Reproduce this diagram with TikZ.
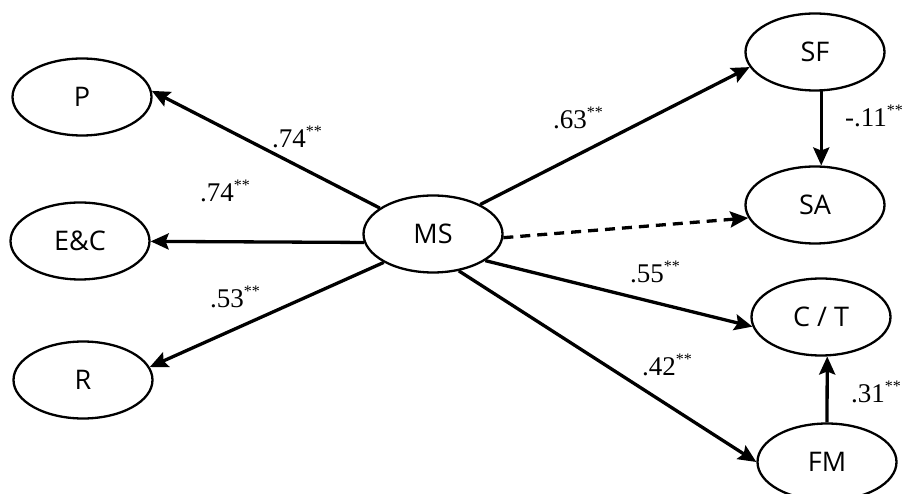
\documentclass[tikz,border=0pt]{standalone}
\usepackage{fontspec}
\setmainfont{Liberation Serif}
\setsansfont{Open Sans}
\usetikzlibrary{shapes.geometric,arrows.meta}

\newcommand{\sig}{\raisebox{0.40em}{\fontsize{16}{16}\selectfont **}}

\tikzset{
  latent/.style={draw, ellipse, line width=2.3pt, minimum width=139pt, minimum height=77pt,
    inner sep=0pt, font=\sffamily\fontsize{27}{27}\selectfont},
  effect/.style={line width=3.3pt, -{Stealth[length=18pt,width=16pt,inset=3pt]}},
  coef/.style={inner sep=0pt, font=\fontsize{27}{27}\selectfont}
}

\begin{document}
\begin{tikzpicture}[x=1pt,y=-1pt]
\useasboundingbox (0,0) rectangle (905,494);

% latent variables
\node[latent] (P)  at (82,97)   {P};
\node[latent] (EC) at (80,241)  {E\&C};
\node[latent] (R)  at (83,380)  {R};
\node[latent] (MS) at (433,234) {MS};
\node[latent] (SF) at (815,52)  {SF};
\node[latent] (SA) at (815,205) {SA};
\node[latent] (CT) at (821,317) {C / T};
\node[latent] (FM) at (827,462) {FM};

% paths
\draw[effect] (MS.154) -- (P.5);
\draw[effect] (MS.187) -- (EC);
\draw[effect] (MS.210) -- (R.11);
\draw[effect] (MS.32)  -- (SF.193);
\draw[effect,dash pattern=on 10pt off 7pt] (MS.357) -- (SA.191);
\draw[effect] (MS.333) -- (CT.188);
\draw[effect] (MS.305) -- (FM.180);
\draw[effect] (SF.279) -- (SA.81);
\draw[effect] (FM.90)  -- (CT.279);

% coefficients
\node[coef] (cP)  at (297,137) {.74\sig};
\node[coef] (cEC) at (225,191) {.74\sig};
\node[coef] (cR)  at (235,297) {.53\sig};
\node[coef] (cSF) at (578,118) {.63\sig};
\node[coef] (cCT) at (655,272) {.55\sig};
\node[coef] (cFM) at (667,365) {.42\sig};
\node[coef] (cSA) at (874,116) {-.11\sig};
\node[coef] (cFC) at (876,392) {.31\sig};

\end{tikzpicture}
\end{document}
